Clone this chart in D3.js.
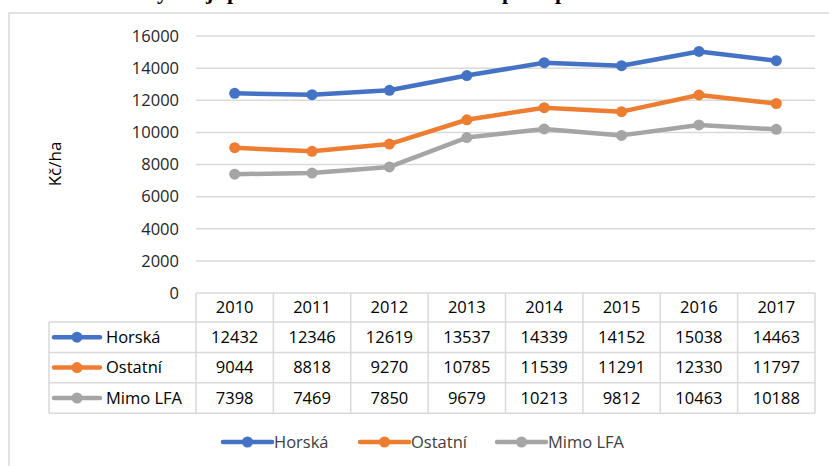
<!DOCTYPE html>
<html>
<head>
<meta charset="utf-8">
<script src="https://cdn.jsdelivr.net/npm/d3@7"></script>
<style>
  body { margin: 0; background: #fff; }
  svg { display: block; font-family: "Open Sans", sans-serif; }
</style>
</head>
<body>
<div id="chart"></div>
<script>
var years = ["2010", "2011", "2012", "2013", "2014", "2015", "2016", "2017"];
var horska = [12432, 12346, 12619, 13537, 14339, 14152, 15038, 14463];
var ostatni = [9044, 8818, 9270, 10785, 11539, 11291, 12330, 11797];
var mimo = [7398, 7469, 7850, 9679, 10213, 9812, 10463, 10188];
var seriesNames = ["Horská", "Ostatní", "Mimo LFA"];
var seriesColors = ["#4472C4", "#ED7D31", "#A5A5A5"];
var yTicks = [0, 2000, 4000, 6000, 8000, 10000, 12000, 14000, 16000];

var series = [horska, ostatni, mimo];

var width = 829, height = 466;
var svg = d3.select("#chart").append("svg")
    .attr("width", width)
    .attr("height", height);

// cut-off title above the chart frame (only descenders show)
var title = svg.append("text")
    .attr("y", -1)
    .attr("font-family", "Liberation Serif, serif")
    .attr("font-weight", "bold")
    .attr("font-size", 22)
    .attr("fill", "#000");
title.append("tspan").attr("x", 141).text("Vý");
title.append("tspan").attr("x", 184).text("voj");
title.append("tspan").attr("x", 227).text("průměrné dotace na hektar");
title.append("tspan").attr("x", 502).text("pro");
title.append("tspan").attr("x", 555).text("půdu");

// chart frame
svg.append("rect")
    .attr("x", 9).attr("y", 13)
    .attr("width", 840).attr("height", 470)
    .attr("fill", "#fff")
    .attr("stroke", "#d9d9d9")
    .attr("stroke-width", 1.5);

var x = d3.scaleBand()
    .domain(years)
    .range([196, 815]);

var y = d3.scaleLinear()
    .domain([0, 16000])
    .range([293, 36]);

// gridlines + y labels
svg.append("g").selectAll("line")
    .data(yTicks.filter(function(d) { return d > 0; }))
    .enter().append("line")
    .attr("x1", 196).attr("x2", 815)
    .attr("y1", function(d) { return y(d); })
    .attr("y2", function(d) { return y(d); })
    .attr("stroke", "#d9d9d9")
    .attr("stroke-width", 1.5);

var yAxis = svg.append("g")
    .attr("transform", "translate(179,0)")
    .call(d3.axisLeft(y).tickValues(yTicks).tickFormat(d3.format("d")).tickSize(0).tickPadding(0));
yAxis.select(".domain").remove();
yAxis.selectAll("text")
    .attr("font-family", "Open Sans, sans-serif")
    .attr("font-size", 16.5)
    .attr("fill", "#262626");

svg.append("text")
    .attr("transform", "translate(61,164) rotate(-90)")
    .attr("text-anchor", "middle")
    .attr("font-size", 17)
    .attr("fill", "#000")
    .text("Kč/ha");

// lines
var line = d3.line()
    .x(function(d, i) { return x(years[i]) + x.bandwidth() / 2; })
    .y(function(d) { return y(d); });

series.forEach(function(s, k) {
    svg.append("path")
        .datum(s)
        .attr("d", line)
        .attr("fill", "none")
        .attr("stroke", seriesColors[k])
        .attr("stroke-width", 4.5)
        .attr("stroke-linejoin", "round")
        .attr("stroke-linecap", "round");
    svg.append("g").selectAll("circle")
        .data(s)
        .enter().append("circle")
        .attr("cx", function(d, i) { return x(years[i]) + x.bandwidth() / 2; })
        .attr("cy", function(d) { return y(d); })
        .attr("r", 5.5)
        .attr("fill", seriesColors[k]);
});

// data table
var headTop = 293, headH = 29, rowH = 30.4, labelLeft = 49;
var rowTop = headTop + headH;
var tableBottom = rowTop + rowH * 3;
var grid = svg.append("g")
    .attr("stroke", "#d9d9d9")
    .attr("stroke-width", 1.5);

grid.append("line").attr("x1", 196).attr("x2", 815).attr("y1", headTop).attr("y2", headTop);
[0, 1, 2, 3].forEach(function(r) {
    grid.append("line")
        .attr("x1", labelLeft).attr("x2", 815)
        .attr("y1", rowTop + r * rowH).attr("y2", rowTop + r * rowH);
});
grid.append("line").attr("x1", labelLeft).attr("x2", labelLeft).attr("y1", rowTop).attr("y2", tableBottom);
years.forEach(function(yr) {
    grid.append("line")
        .attr("x1", x(yr)).attr("x2", x(yr))
        .attr("y1", headTop).attr("y2", tableBottom);
});
grid.append("line").attr("x1", 815).attr("x2", 815).attr("y1", headTop).attr("y2", tableBottom);

svg.append("g").selectAll("text")
    .data(years)
    .enter().append("text")
    .attr("x", function(d) { return x(d) + x.bandwidth() / 2; })
    .attr("y", headTop + headH / 2)
    .attr("dy", "0.35em")
    .attr("text-anchor", "middle")
    .attr("font-size", 16.5)
    .attr("fill", "#000")
    .text(function(d) { return d; });

series.forEach(function(s, k) {
    var cy = rowTop + k * rowH + rowH / 2;
    var row = svg.append("g");
    row.append("line")
        .attr("x1", 54).attr("x2", 100)
        .attr("y1", cy).attr("y2", cy)
        .attr("stroke", seriesColors[k])
        .attr("stroke-width", 4.5)
        .attr("stroke-linecap", "round");
    row.append("circle")
        .attr("cx", 77).attr("cy", cy).attr("r", 5.5)
        .attr("fill", seriesColors[k]);
    row.append("text")
        .attr("x", 106).attr("y", cy).attr("dy", "0.35em")
        .attr("font-size", 16.5)
        .attr("fill", "#000")
        .text(seriesNames[k]);
    row.selectAll("text.v")
        .data(s)
        .enter().append("text")
        .attr("class", "v")
        .attr("x", function(d, i) { return x(years[i]) + x.bandwidth() / 2; })
        .attr("y", cy).attr("dy", "0.35em")
        .attr("text-anchor", "middle")
        .attr("font-size", 16.5)
        .attr("fill", "#000")
        .text(function(d) { return d; });
});

// legend
var legendX = [223, 360, 497];
var legend = svg.append("g");
seriesNames.forEach(function(n, k) {
    var lx = legendX[k], ly = 442;
    legend.append("line")
        .attr("x1", lx).attr("x2", lx + 49)
        .attr("y1", ly).attr("y2", ly)
        .attr("stroke", seriesColors[k])
        .attr("stroke-width", 4.5)
        .attr("stroke-linecap", "round");
    legend.append("circle")
        .attr("cx", lx + 24.5).attr("cy", ly).attr("r", 5.5)
        .attr("fill", seriesColors[k]);
    legend.append("text")
        .attr("x", lx + 51).attr("y", ly).attr("dy", "0.35em")
        .attr("font-size", 16.5)
        .attr("fill", "#404040")
        .text(n);
});
</script>
</body>
</html>
